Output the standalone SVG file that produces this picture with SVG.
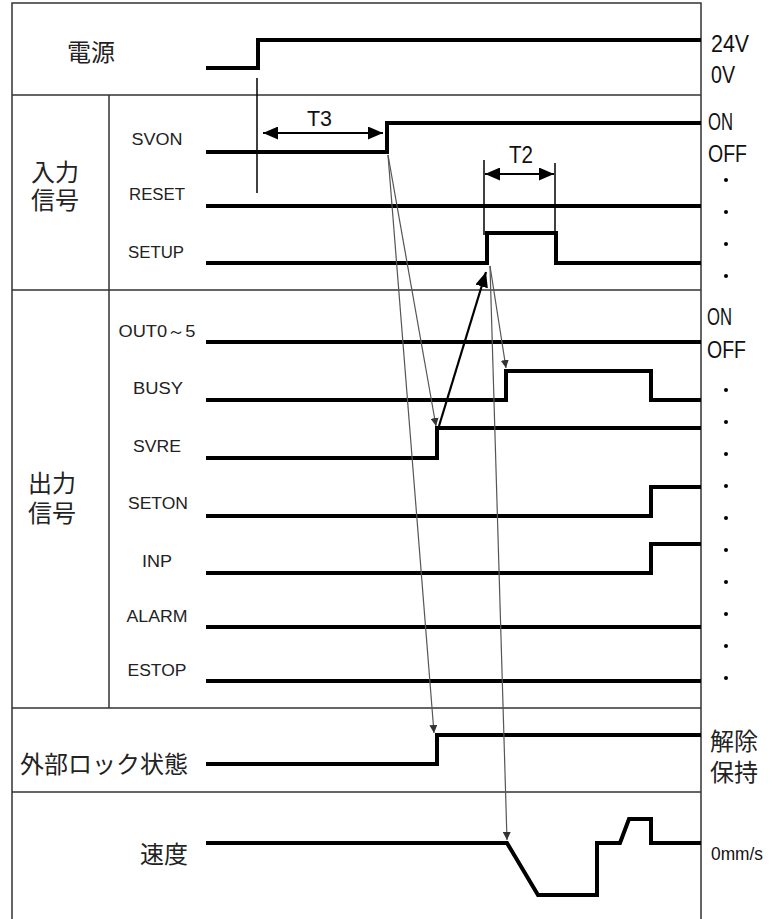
<svg xmlns="http://www.w3.org/2000/svg" width="773" height="919" viewBox="0 0 773 919">
<style>
.frame{fill:none;stroke:#333;stroke-width:1.5}
.sig{fill:none;stroke:#000;stroke-width:4;stroke-linejoin:miter}
.thin{fill:none;stroke:#000;stroke-width:1.5}
.dim{fill:none;stroke:#000;stroke-width:2.2}
.gray{fill:none;stroke:#555;stroke-width:1.2}
.lbl{font-family:"Liberation Sans",Arial,sans-serif;font-size:16px;fill:#222;text-anchor:middle}
.jp{font-family:"Noto Sans CJK JP","Noto Sans CJK SC",sans-serif;font-size:24px;fill:#222}
.lv{font-family:"Liberation Sans",Arial,sans-serif;font-size:24px;fill:#111}
.dot{fill:#000}
</style>
<defs>
<marker id="big" markerUnits="userSpaceOnUse" markerWidth="15" markerHeight="13" refX="15" refY="6.5" orient="auto-start-reverse"><path d="M0,0 L15,6.5 L0,13 z" fill="#000"/></marker>
<marker id="small" markerUnits="userSpaceOnUse" markerWidth="8" markerHeight="8" refX="8" refY="4" orient="auto"><path d="M0,0 L8,4 L0,8 z" fill="#333"/></marker>
</defs>
<rect width="773" height="919" fill="#fff"/>
<g id="frame">
<path class="frame" d="M12,919 V3 H701 V919"/>
<path class="frame" d="M12,95 H701 M12,290 H701 M12,708 H701 M12,792 H701 M109,95 V708"/>
</g>
<g id="power">
<text class="jp" x="67" y="61">電源</text>
<polyline class="sig" points="206,68 258,68 258,40 701,40"/>
<text class="lv" x="711" y="52" textLength="38" lengthAdjust="spacingAndGlyphs">24V</text>
<text class="lv" x="711" y="83" textLength="24" lengthAdjust="spacingAndGlyphs">0V</text>
</g>
<g id="input">
<text class="jp"><tspan x="31" y="181">入力</tspan><tspan x="31" y="209">信号</tspan></text>
<text class="lv" x="708" y="130" textLength="25" lengthAdjust="spacingAndGlyphs">ON</text>
<text class="lv" x="708" y="162" textLength="39" lengthAdjust="spacingAndGlyphs">OFF</text>
<circle class="dot" cx="726" cy="180" r="2"/><circle class="dot" cx="726" cy="212" r="2"/><circle class="dot" cx="726" cy="244" r="2"/><circle class="dot" cx="726" cy="276" r="2"/>
</g>
<g id="svon">
<text class="lbl" x="157" y="145" textLength="51" lengthAdjust="spacingAndGlyphs">SVON</text>
<polyline class="sig" points="206,152 387,152 387,123 701,123"/>
</g>
<g id="reset">
<text class="lbl" x="157" y="200" textLength="56" lengthAdjust="spacingAndGlyphs">RESET</text>
<polyline class="sig" points="206,206 701,206"/>
</g>
<g id="setup">
<text class="lbl" x="156" y="258" textLength="56" lengthAdjust="spacingAndGlyphs">SETUP</text>
<polyline class="sig" points="206,263 487,263 487,233 556,233 556,263 701,263"/>
</g>
<g id="output">
<text class="jp"><tspan x="28" y="492">出力</tspan><tspan x="28" y="522">信号</tspan></text>
<text class="lv" x="707" y="325" textLength="25" lengthAdjust="spacingAndGlyphs">ON</text>
<text class="lv" x="707" y="358" textLength="39" lengthAdjust="spacingAndGlyphs">OFF</text>
<circle class="dot" cx="726" cy="390" r="2"/><circle class="dot" cx="726" cy="422" r="2"/><circle class="dot" cx="726" cy="454" r="2"/><circle class="dot" cx="726" cy="486" r="2"/><circle class="dot" cx="726" cy="518" r="2"/><circle class="dot" cx="726" cy="550" r="2"/><circle class="dot" cx="726" cy="582" r="2"/><circle class="dot" cx="726" cy="614" r="2"/><circle class="dot" cx="726" cy="646" r="2"/><circle class="dot" cx="726" cy="678" r="2"/>
</g>
<g id="out05">
<text class="lbl" x="157" y="337" textLength="77" lengthAdjust="spacingAndGlyphs">OUT0～5</text>
<polyline class="sig" points="206,342 701,342"/>
</g>
<g id="busy">
<text class="lbl" x="158" y="394" textLength="50" lengthAdjust="spacingAndGlyphs">BUSY</text>
<polyline class="sig" points="206,400 506,400 506,371 651,371 651,400 701,400"/>
</g>
<g id="svre">
<text class="lbl" x="157" y="452" textLength="48" lengthAdjust="spacingAndGlyphs">SVRE</text>
<polyline class="sig" points="206,458 437,458 437,428 701,428"/>
</g>
<g id="seton">
<text class="lbl" x="158" y="509" textLength="60" lengthAdjust="spacingAndGlyphs">SETON</text>
<polyline class="sig" points="206,516 651,516 651,487 701,487"/>
</g>
<g id="inp">
<text class="lbl" x="157" y="567" textLength="30" lengthAdjust="spacingAndGlyphs">INP</text>
<polyline class="sig" points="206,573 651,573 651,544 701,544"/>
</g>
<g id="alarm">
<text class="lbl" x="157" y="622" textLength="61" lengthAdjust="spacingAndGlyphs">ALARM</text>
<polyline class="sig" points="206,627 701,627"/>
</g>
<g id="estop">
<text class="lbl" x="157" y="676" textLength="59" lengthAdjust="spacingAndGlyphs">ESTOP</text>
<polyline class="sig" points="206,681 701,681"/>
</g>
<g id="lock">
<text class="jp" x="20" y="773">外部ロック状態</text>
<polyline class="sig" points="206,764 437,764 437,735 701,735"/>
<text class="jp"><tspan x="710" y="750">解除</tspan><tspan x="710" y="781">保持</tspan></text>
</g>
<g id="speed">
<text class="jp" x="140" y="863">速度</text>
<polyline class="sig" points="206,843 507,843 538,895 597,895 597,843 620,843 629,819 651,819 651,843 701,843"/>
<text class="lv" x="711" y="860" style="font-size:18px" textLength="52" lengthAdjust="spacingAndGlyphs">0mm/s</text>
</g>
<g id="connectors">
<line class="thin" x1="257" y1="78" x2="257" y2="193"/>
<line class="dim" x1="263" y1="133" x2="383" y2="133" marker-start="url(#big)" marker-end="url(#big)"/>
<text class="lv" x="307" y="126" style="font-size:22px" textLength="25" lengthAdjust="spacingAndGlyphs">T3</text>
<line class="thin" x1="484" y1="160" x2="484" y2="235"/>
<line class="thin" x1="555" y1="163" x2="555" y2="232"/>
<line class="dim" x1="485" y1="174" x2="554" y2="174" marker-start="url(#big)" marker-end="url(#big)"/>
<text class="lv" x="509" y="163" textLength="24" lengthAdjust="spacingAndGlyphs">T2</text>
<line class="gray" x1="388" y1="155" x2="436" y2="426" marker-end="url(#small)"/>
<line class="gray" x1="388" y1="155" x2="434" y2="733" marker-end="url(#small)"/>
<line class="gray" x1="490" y1="266" x2="506" y2="368" marker-end="url(#small)"/>
<line class="gray" x1="490" y1="266" x2="507" y2="840" marker-end="url(#small)"/>
<line class="dim" x1="439" y1="426" x2="486" y2="272" marker-end="url(#big)"/>
</g>
</svg>
